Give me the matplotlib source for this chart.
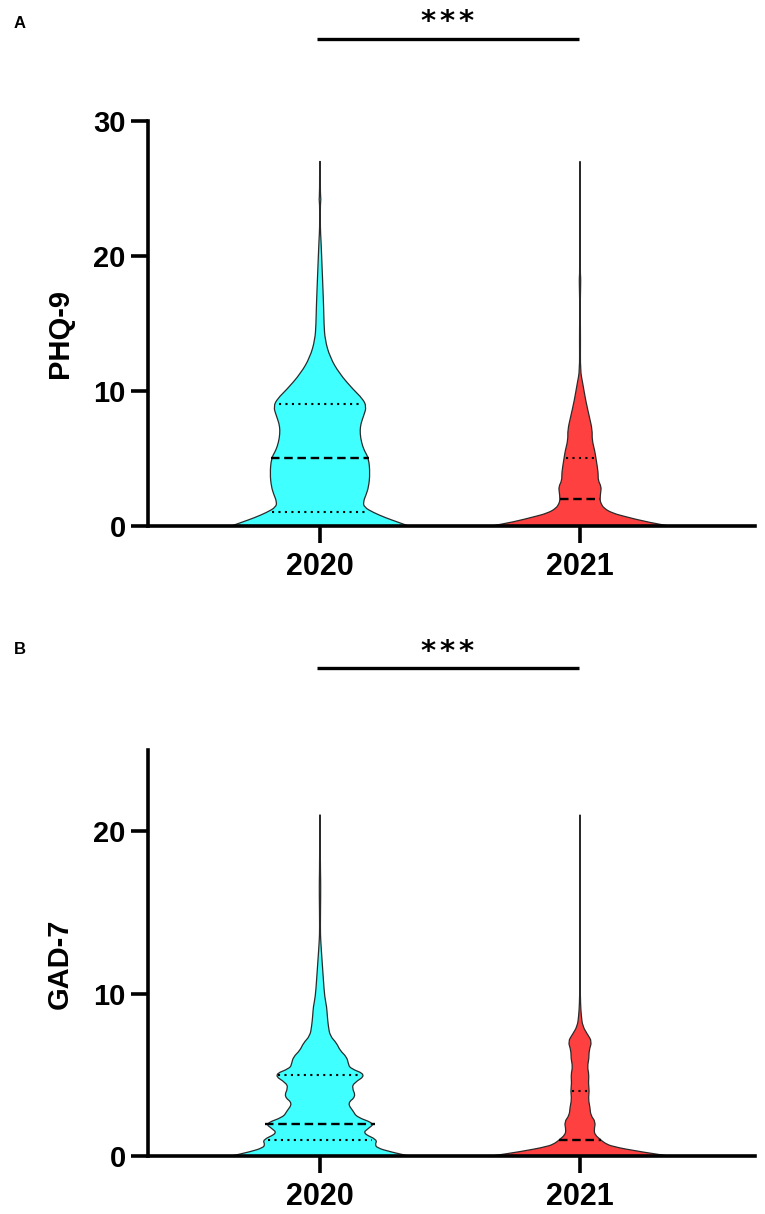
import matplotlib
matplotlib.use('Agg')
import matplotlib.pyplot as plt
import numpy as np
from matplotlib.path import Path
from matplotlib.patches import PathPatch
from matplotlib.transforms import blended_transform_factory

plt.rcParams['font.family'] = ['Liberation Sans', 'DejaVu Sans']

years = ['2020', '2021']
CYAN = '#40FFFF'
RED = '#FF4040'

# score levels and violin half widths
phq_2020_y = [0, 0.3, 0.6, 1, 1.4, 1.8, 2.3, 2.9, 3.9, 5, 5.5, 5.9, 6.5, 7.1, 7.6, 8.1, 8.85, 9.45, 10.1, 11.3, 12.5, 13.8, 15, 16.2, 18.7, 21.2, 22, 23.9, 24.2, 24.5, 27]
phq_2020_w = [266, 232, 198, 160, 132, 130, 138, 146, 150, 146, 135, 128, 122, 120, 123, 130, 140, 127, 100, 58, 30, 15, 12, 11, 7, 3, 1, 1, 3, 1, 1]
phq_2021_y = [0, 0.3, 0.7, 0.95, 1.3, 1.7, 2, 2.5, 2.9, 3.4, 3.9, 5, 5.6, 6.4, 7.1, 8.1, 9.3, 10.6, 11.5, 13.8, 15.3, 16, 18, 18.4, 19, 27]
phq_2021_w = [266, 200, 135, 98, 72, 62, 60, 62, 64, 54, 55, 48, 44, 36, 37, 28, 17, 8, 1, 1.5, 1, 0.5, 2, 2, 0.5, 0.5]
gad_2020_y = [0, 0.27, 0.5, 0.7, 1, 1.4, 1.7, 2, 2.4, 2.75, 3.25, 3.66, 4.2, 4.5, 5, 5.4, 5.7, 6.1, 6.5, 6.95, 7.4, 8, 8.6, 9.2, 9.8, 10.9, 12.1, 13.3, 14, 16, 17, 18, 21]
gad_2020_w = [266, 208, 172, 165, 172, 128, 145, 164, 110, 100, 82, 108, 96, 102, 140, 90, 85, 80, 60, 50, 30, 25, 22, 20, 14, 10, 6, 2, 1, 2, 2, 1, 1]
gad_2021_y = [0, 0.27, 0.58, 0.78, 1, 1.3, 1.6, 2.1, 2.5, 3, 3.5, 4, 4.5, 5, 5.5, 6, 6.5, 7.05, 7.5, 8, 8.6, 9.4, 10.5, 21]
gad_2021_w = [266, 178, 98, 75, 62, 45, 42, 47, 32, 30, 25, 28, 25, 27, 22, 27, 27, 36, 22, 8, 4, 1.5, 0.7, 0.5]

# median and quartiles
phq_2020_q = [1, 5, 9]
phq_2021_q = [None, 2, 5]
gad_2020_q = [1, 2, 5]
gad_2021_q = [None, 1, 4]

W = 765
H = 1214
WIDTH_SCALE = 1 / 780  # width units to x data units


def smooth_side(ys, ws, sign):
    # quadratic segments through the midpoints, keeps the outline rounded
    pts = [(sign * w * WIDTH_SCALE, y) for y, w in zip(ys, ws)]
    verts = [pts[0]]
    codes = [Path.LINETO]
    for i in range(1, len(pts) - 1):
        mid = ((pts[i][0] + pts[i + 1][0]) / 2, (pts[i][1] + pts[i + 1][1]) / 2)
        verts += [pts[i], mid]
        codes += [Path.CURVE3, Path.CURVE3]
    verts.append(pts[-1])
    codes.append(Path.LINETO)
    return verts, codes


def draw_violin(ax, pos, ys, ws, quart, color):
    rv, rc = smooth_side(ys, ws, 1)
    lv, lc = smooth_side(ys[::-1], ws[::-1], -1)
    verts = [(x + pos, y) for x, y in rv + lv]
    codes = rc + lc
    codes[0] = Path.MOVETO
    verts.append(verts[0])
    codes.append(Path.CLOSEPOLY)
    ax.add_patch(PathPatch(Path(verts, codes), facecolor=color, edgecolor='#2a2a2a',
                           linewidth=0.9, zorder=2))
    # dotted quartiles, dashed median
    for i, q in enumerate(quart):
        if q is None:
            continue
        half = np.interp(q, ys, ws) * WIDTH_SCALE
        if i == 1:
            ax.plot([pos - half, pos + half], [q, q], color='black', lw=1.7,
                    linestyle=(0, (3.6, 2)), zorder=3)
        else:
            half = half * 0.9
            ax.plot([pos - half, pos + half], [q, q], color='black', lw=1.5,
                    linestyle=(0, (1, 2.1)), zorder=3)


def draw_panel(rect_px, ymax, yticks, ylabel, label_y, series, letter, letter_y, bar_y, star_y):
    left, top, right, bottom = rect_px
    ax = fig.add_axes([left / W, 1 - bottom / H, (right - left) / W, (bottom - top) / H])
    for pos, (ys, ws, quart, color) in zip([1, 2], series):
        draw_violin(ax, pos, ys, ws, quart, color)

    ax.set_xlim(1 + (left - 320) / 260, 1 + (right - 320) / 260)
    ax.set_ylim(0, ymax)
    ax.set_xticks([1, 2])
    ax.set_xticklabels(years, fontsize=22, fontweight='bold')
    ax.set_yticks(yticks)
    ax.set_yticklabels([str(t) for t in yticks], fontsize=21, fontweight='bold')
    ax.tick_params(axis='x', length=12, width=2.6, pad=7)
    ax.tick_params(axis='y', length=12, width=2.6, pad=4)
    ax.spines['top'].set_visible(False)
    ax.spines['right'].set_visible(False)
    ax.spines['left'].set_linewidth(2.6)
    ax.spines['bottom'].set_linewidth(2.6)
    ax.set_ylabel(ylabel, fontsize=21, fontweight='bold', va='center')
    ax.yaxis.set_label_coords((60 - left) / (right - left), (bottom - label_y) / (bottom - top))

    # significance bar above the axes
    trans = blended_transform_factory(ax.transData, fig.transFigure)
    ax.plot([0.99, 1.995], [1 - bar_y / H] * 2, color='black', lw=2.4, transform=trans,
            clip_on=False, solid_capstyle='butt')
    for star_x in [428, 447, 466]:
        fig.text(star_x / W, 1 - star_y / H, '*', fontsize=21, fontweight='bold',
                 family=['DejaVu Sans'], ha='center', va='center')
    fig.text(14 / W, 1 - letter_y / H, letter, fontsize=12, fontweight='bold', ha='left', va='center')
    return ax


fig = plt.figure(figsize=(W / 100, H / 100), dpi=100)

draw_panel((148, 121, 755, 526), 30, [0, 10, 20, 30], 'PHQ-9', 333,
           [(phq_2020_y, phq_2020_w, phq_2020_q, CYAN), (phq_2021_y, phq_2021_w, phq_2021_q, RED)],
           'A', 23, 39, 22)
draw_panel((148, 750, 755, 1156), 25, [0, 10, 20], 'GAD-7', 964,
           [(gad_2020_y, gad_2020_w, gad_2020_q, CYAN), (gad_2021_y, gad_2021_w, gad_2021_q, RED)],
           'B', 650, 668, 652)

fig.savefig('out.png', dpi=100)
